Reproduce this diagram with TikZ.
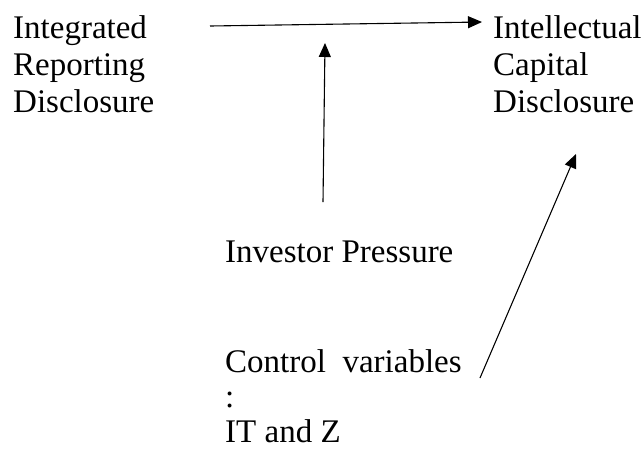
\documentclass[tikz,border=0pt]{standalone}
\usepackage{fontspec}
\setmainfont{Liberation Serif}
\usepackage{tikz}
\usetikzlibrary{arrows.meta,positioning}
\tikzset{
  label/.style={align=left, inner sep=0pt, font=\fontsize{33}{37}\selectfont},
  arrow/.style={-{Triangle[length=14pt, width=12pt]}, line width=1.1pt}
}

\begin{document}
\begin{tikzpicture}[x=1pt, y=-1pt]
    \useasboundingbox (0,0) rectangle (643,451);
    % variables
    \node[label, anchor=north west] (ird) at (13,15) {Integrated\\Reporting\\Disclosure};
    \node[label, anchor=north west] (icd) at (493,15) {Intellectual\\Capital\\Disclosure};
    \node[label, anchor=base west] (ip) at (225,262) {Investor Pressure};
    \node[label, anchor=north west, font=\fontsize{33}{35}\selectfont] (cv) at (225,349) {Control\ \ variables\\:\\IT and Z};

    % arrow ends
    \coordinate (ird out) at (210,26);
    \coordinate (icd in) at (482,22);
    \coordinate (ip out) at (323,202);
    \coordinate (mod) at (325,43);
    \coordinate (cv out) at (480,378);
    \coordinate (icd in2) at (576,154);

    % arrows
    \draw[arrow] (ird out) -- (icd in);
    \draw[arrow] (ip out) -- (mod);
    \draw[arrow] (cv out) -- (icd in2);
  \end{tikzpicture}
\end{document}
